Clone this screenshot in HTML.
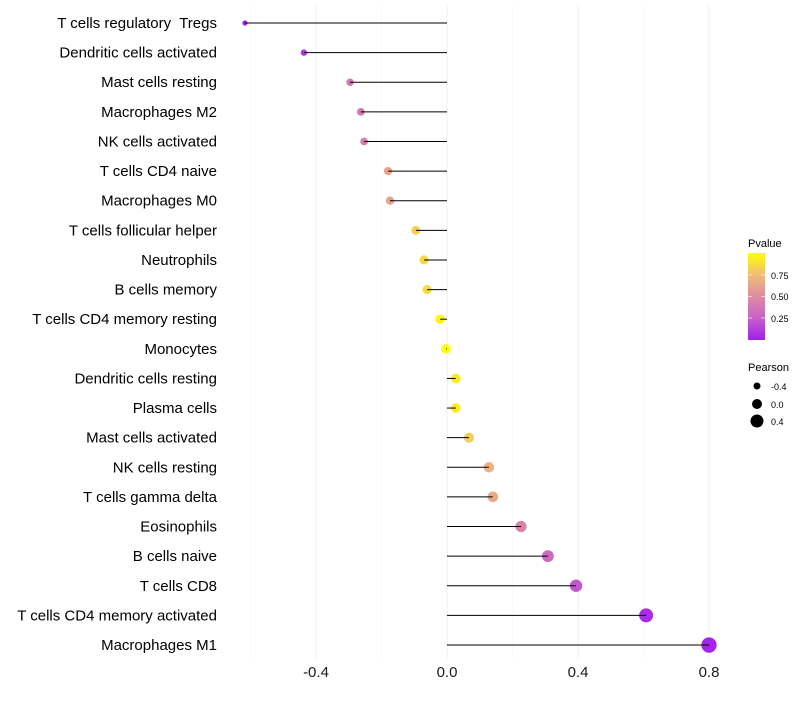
<!DOCTYPE html>
<html><head><meta charset="utf-8"><style>
body{margin:0;background:#fff;font-family:"Liberation Sans",sans-serif}
</style></head><body>
<svg id="chart" width="800" height="700" xmlns="http://www.w3.org/2000/svg">
<defs><linearGradient id="pg" x1="0" y1="1" x2="0" y2="0">
<stop offset="0" stop-color="#a020f0"/><stop offset="0.25" stop-color="#c860c8"/><stop offset="0.5" stop-color="#dc8ca0"/><stop offset="0.75" stop-color="#f0bc78"/><stop offset="1" stop-color="#ffff00"/>
</linearGradient></defs>
<g id="grid"></g><g id="dots"></g><g id="marks"></g><g id="labels"></g>
<g font-size="10">
<text x="748" y="247" font-size="11">Pvalue</text>
<rect x="748" y="253" width="17" height="87" fill="url(#pg)"/>
<line x1="748" x2="752" y1="275" y2="275" stroke="#fff" opacity=".6"/><line x1="761" x2="765" y1="275" y2="275" stroke="#fff" opacity=".6"/>
<line x1="748" x2="752" y1="296.5" y2="296.5" stroke="#fff" opacity=".6"/><line x1="761" x2="765" y1="296.5" y2="296.5" stroke="#fff" opacity=".6"/>
<line x1="748" x2="752" y1="318" y2="318" stroke="#fff" opacity=".6"/><line x1="761" x2="765" y1="318" y2="318" stroke="#fff" opacity=".6"/>
<text x="771" y="279" font-size="9">0.75</text><text x="771" y="300" font-size="9">0.50</text><text x="771" y="322" font-size="9">0.25</text>
<text x="748" y="371" font-size="11">Pearson</text>
<circle cx="757" cy="386" r="3.5" fill="#000"/><text x="771" y="390" font-size="9">-0.4</text>
<circle cx="757" cy="404" r="5" fill="#000"/><text x="771" y="408" font-size="9">0.0</text>
<circle cx="757" cy="421" r="6.5" fill="#000"/><text x="771" y="425" font-size="9">0.4</text>
</g>
</svg>
<script>
const categories=["T cells regulatory  Tregs","Dendritic cells activated","Mast cells resting","Macrophages M2","NK cells activated","T cells CD4 naive","Macrophages M0","T cells follicular helper","Neutrophils","B cells memory","T cells CD4 memory resting","Monocytes","Dendritic cells resting","Plasma cells","Mast cells activated","NK cells resting","T cells gamma delta","Eosinophils","B cells naive","T cells CD8","T cells CD4 memory activated","Macrophages M1"];
const pearson=[-0.617,-0.437,-0.296,-0.263,-0.253,-0.18,-0.174,-0.095,-0.07,-0.061,-0.021,-0.003,0.027,0.027,0.067,0.128,0.14,0.226,0.308,0.394,0.608,0.8];
const pvalue=[0.01,0.1,0.4,0.4,0.42,0.62,0.63,0.82,0.86,0.87,0.97,1.0,0.93,0.93,0.82,0.7,0.66,0.45,0.3,0.22,0.05,0.02];
const ticks=[-0.4,0.0,0.4,0.8];
const minorTicks=[-0.6,-0.2,0.2,0.6];
const NS="http://www.w3.org/2000/svg";
const X=v=>447+v*327.5;
const Y=i=>23+i*29.62;
const R=v=>Math.max(1.5,4.8+3.6*v);
const stops=[[0,[160,32,240]],[0.25,[200,96,200]],[0.5,[220,140,160]],[0.75,[240,188,120]],[1,[255,255,0]]];
function col(p){for(let i=1;i<stops.length;i++){if(p<=stops[i][0]){const a=stops[i-1],b=stops[i],t=(p-a[0])/(b[0]-a[0]);return "rgb("+a[1].map((c,k)=>Math.round(c+(b[1][k]-c)*t)).join(",")+")";}}return "rgb(255,255,0)";}
function mk(tag,at,par){const e=document.createElementNS(NS,tag);for(const k in at)e.setAttribute(k,at[k]);document.getElementById(par).appendChild(e);return e;}
minorTicks.forEach(t=>{const l=mk("line",{x1:X(t),x2:X(t),y1:5,y2:660,stroke:"#f6f6f6","stroke-width":0.6},"grid");

});
ticks.forEach(t=>{const l=mk("line",{x1:X(t),x2:X(t),y1:5,y2:660,stroke:"#f0f0f0","stroke-width":1},"grid");


const tx=mk("text",{x:X(t),y:677,"text-anchor":"middle","font-size":15,fill:"#1a1a1a"},"labels");tx.textContent=t.toFixed(1);

});
categories.forEach((c,i)=>{const y=Y(i);
const d=mk("circle",{cx:X(pearson[i]),cy:y,r:R(pearson[i]),fill:col(pvalue[i])},"dots");


const l=mk("line",{x1:X(0),x2:X(pearson[i]),y1:y,y2:y,stroke:"#000","stroke-width":1},"marks");


const t=mk("text",{x:217,y:y+5,"text-anchor":"end","font-size":15,fill:"#000"},"labels");t.textContent=c;t.setAttribute("xml:space","preserve");t.style.whiteSpace="pre";

});
</script>
</body></html>
